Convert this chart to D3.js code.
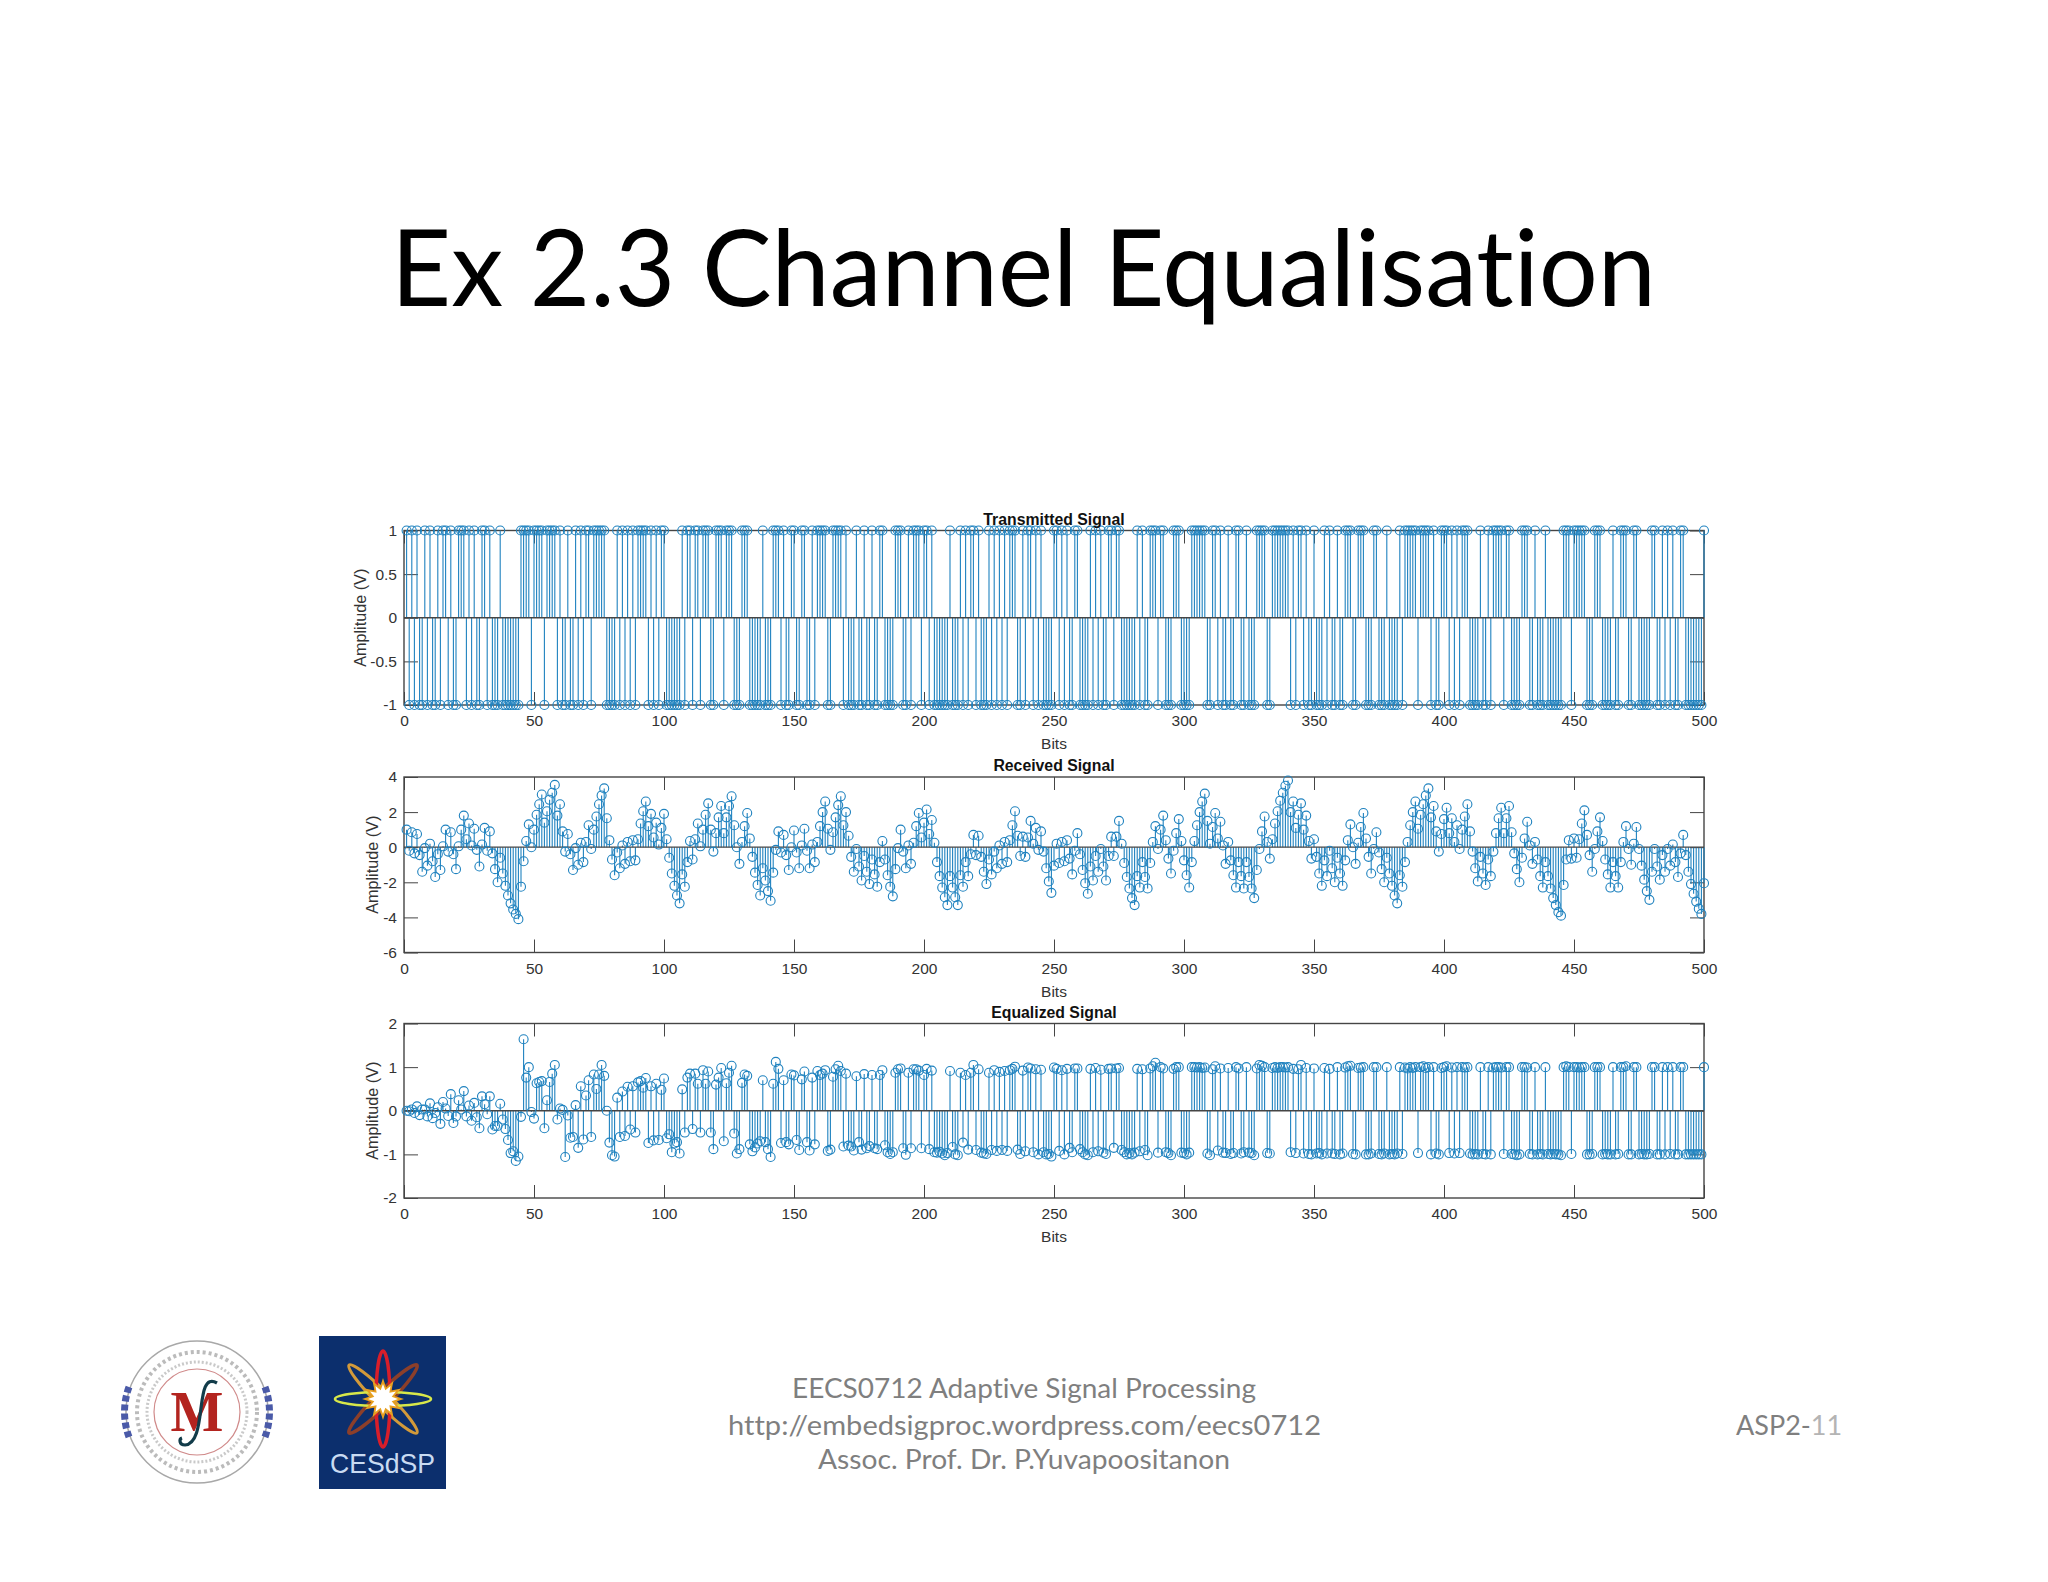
<!DOCTYPE html>
<html><head><meta charset="utf-8">
<script src="https://cdn.jsdelivr.net/npm/d3@7/dist/d3.min.js"></script>
<style>html,body{margin:0;padding:0;background:#fff}svg{display:block}text{font-variant-ligatures:none}</style>
</head><body><svg id="slide" width="2048" height="1582"></svg>
<script>
const slideTitle = "Ex 2.3 Channel Equalisation";
const footerLines = ["EECS0712 Adaptive Signal Processing","http://embedsigproc.wordpress.com/eecs0712","Assoc. Prof. Dr. P.Yuvapoositanon"];
const xTicks = [0,50,100,150,200,250,300,350,400,450,500];
const yTicksTx = [-1,-0.5,0,0.5,1];
const yTicksRx = [-6,-4,-2,0,2,4];
const yTicksEq = [-2,-1,0,1,2];
const transmitted = [
1,-1,1,-1,1,-1,-1,1,-1,1,
-1,-1,1,-1,1,1,-1,1,-1,-1,
1,1,1,-1,1,-1,1,-1,-1,1,
1,-1,1,-1,-1,-1,1,-1,-1,-1,
-1,-1,-1,-1,1,1,1,1,-1,1,
1,1,1,-1,1,1,1,1,-1,1,
-1,-1,1,-1,-1,1,-1,1,-1,1,
1,-1,1,1,1,1,1,-1,-1,-1,
-1,1,-1,1,-1,1,-1,1,-1,1,
1,1,1,-1,1,-1,1,-1,1,1,
-1,-1,-1,-1,-1,-1,1,-1,1,1,
-1,1,1,-1,1,1,1,-1,-1,1,
1,1,-1,1,1,1,-1,-1,-1,1,
1,1,-1,-1,-1,-1,-1,1,-1,-1,
-1,1,1,1,-1,1,-1,-1,1,1,
-1,-1,1,1,-1,-1,1,-1,1,1,
1,1,-1,-1,1,1,1,1,-1,1,
-1,-1,-1,1,-1,-1,1,-1,-1,1,
-1,-1,1,1,-1,-1,-1,-1,1,1,
1,-1,-1,1,-1,1,1,1,-1,1,
1,-1,1,-1,-1,-1,-1,-1,-1,1,
-1,-1,-1,1,-1,1,-1,1,1,-1,
1,-1,-1,-1,1,-1,1,-1,1,-1,
1,-1,1,1,1,-1,-1,1,-1,1,
1,-1,1,-1,1,-1,-1,-1,-1,1,
1,-1,1,-1,1,-1,-1,1,1,-1,
-1,-1,-1,1,-1,1,-1,1,-1,-1,
1,1,-1,1,1,-1,-1,-1,-1,-1,
-1,1,-1,1,-1,-1,1,1,1,-1,
1,1,-1,-1,-1,1,1,1,-1,-1,
-1,-1,1,1,1,1,1,1,-1,-1,
1,1,-1,1,-1,-1,1,-1,-1,1,
1,-1,-1,1,-1,-1,-1,1,1,1,
1,-1,-1,1,1,1,1,1,1,1,
-1,1,-1,1,1,-1,1,-1,-1,1,
-1,-1,-1,1,-1,1,-1,-1,1,-1,
-1,1,1,1,-1,-1,1,1,1,-1,
-1,-1,1,1,-1,-1,-1,1,-1,-1,
-1,-1,1,-1,1,1,1,1,1,-1,
1,1,1,1,-1,1,-1,-1,1,1,
1,-1,1,-1,1,-1,1,1,1,-1,
-1,-1,-1,1,-1,-1,1,-1,1,1,
1,1,-1,1,1,-1,-1,-1,-1,1,
1,1,-1,-1,1,-1,-1,-1,1,-1,
-1,-1,-1,-1,-1,1,1,1,-1,1,
1,1,1,1,-1,-1,-1,1,1,1,
-1,-1,-1,-1,1,-1,-1,1,1,1,
-1,-1,1,1,-1,-1,-1,-1,-1,1,
1,-1,-1,1,-1,1,-1,1,-1,-1,
1,1,-1,-1,-1,-1,-1,-1,-1,1];
const received = [
1.0,-0.2,0.85,-0.35,0.75,-0.45,-1.4,-0.05,-1.05,0.2,
-0.8,-1.7,-0.4,-1.3,0.05,1.0,-0.25,0.85,-0.4,-1.25,
0.05,1.0,1.8,0.45,1.35,0.1,1.05,-0.15,-1.1,0.15,
1.1,-0.2,0.9,-0.35,-1.25,-2.0,-0.6,-1.5,-2.2,-2.75,
-3.2,-3.55,-3.8,-4.1,-2.25,-0.8,0.35,1.3,0,1.0,
1.85,2.45,3.0,1.4,2.05,2.7,3.1,3.55,1.8,2.45,
0.9,-0.25,0.75,-0.4,-1.3,-0.05,-1.0,0.25,-0.85,0.3,
1.25,-0.1,1.0,1.75,2.45,2.95,3.35,1.65,0.4,-0.7,
-1.6,-0.3,-1.2,0.1,-0.95,0.3,-0.8,0.4,-0.75,0.45,
1.35,2.05,2.6,1.2,1.9,0.55,1.4,0.15,1.1,1.9,
0.45,-0.6,-1.5,-2.2,-2.75,-3.2,-1.55,-2.25,-0.85,0.35,
-0.7,0.45,1.35,0.05,1.0,1.85,2.5,1.0,-0.25,0.8,
1.7,2.35,0.8,1.7,2.35,2.9,1.25,0,-0.95,0.3,
1.2,1.95,0.5,-0.55,-1.45,-2.15,-2.75,-1.2,-1.9,-2.5,
-3.05,-1.45,-0.15,0.9,-0.3,0.7,-0.45,-1.3,0,0.95,
-0.3,-1.2,0.1,1.05,-0.2,-1.2,0.15,-0.85,0.3,1.2,
2.0,2.6,1.05,-0.15,0.85,1.7,2.4,2.9,1.25,2.0,
0.65,-0.55,-1.4,-0.1,-1.1,-1.9,-0.5,-1.4,-2.1,-0.7,
-1.55,-2.25,-0.85,0.35,-0.7,-1.6,-2.25,-2.8,-1.25,-0.05,
1.0,-0.25,-1.2,0.1,-0.95,0.25,1.2,1.95,0.55,1.4,
2.15,0.75,1.55,0.25,-0.85,-1.65,-2.3,-2.85,-3.3,-1.65,
-2.3,-2.85,-3.3,-1.6,-2.25,-0.85,-1.65,-0.4,0.7,-0.45,
0.65,-0.55,-1.4,-2.1,-0.7,-1.55,-0.25,-1.2,0.1,-0.95,
0.3,-0.85,0.4,1.25,2.05,0.65,-0.5,0.6,-0.55,0.55,
1.5,0.2,1.1,-0.15,0.9,-0.25,-1.2,-1.95,-2.6,-1.05,
0.2,-0.9,0.3,-0.8,0.4,-0.65,-1.55,-0.2,0.8,-0.4,
-1.3,-2.05,-2.65,-1.1,-1.9,-0.5,-1.4,-0.1,-1.1,-1.9,
-0.5,0.6,-0.5,0.6,1.5,0.2,-0.9,-1.7,-2.35,-2.9,
-3.3,-1.65,-2.3,-0.85,-1.7,-2.35,-0.9,0.3,1.2,-0.1,
1.0,1.8,0.4,-0.65,-1.5,-0.2,0.8,1.6,0.35,-0.75,
-1.6,-2.3,-0.85,0.35,1.25,2.0,2.6,3.05,1.5,0.2,
1.15,1.95,0.5,1.45,0.1,-0.95,0.3,-0.75,-1.6,-2.3,
-0.85,-1.65,-2.35,-0.85,-1.7,-2.35,-2.9,-1.3,-0.1,0.9,
1.75,0.3,-0.65,0.45,1.35,2.05,2.65,3.1,3.5,3.8,
2.0,2.6,1.1,1.85,2.5,1.0,1.8,0.35,-0.65,0.45,
-0.55,-1.5,-2.2,-0.75,-1.65,-0.2,-1.2,-2.0,-0.6,-1.5,
-2.2,-0.75,0.4,1.3,0,-0.95,0.25,1.15,1.95,0.5,
-0.55,-1.5,-0.1,0.85,-0.3,-1.25,-2.0,-0.6,-1.5,-2.2,
-2.75,-3.2,-1.6,-2.25,-0.85,0.3,1.25,2.0,2.6,1.05,
1.85,2.45,2.95,3.35,1.7,2.35,0.9,-0.25,0.75,1.6,
2.25,0.8,1.65,0.3,1.25,-0.1,1.0,1.75,2.45,0.9,
-0.25,-1.2,-1.95,-0.55,-1.5,-2.15,-0.7,-1.65,-0.25,0.8,
1.65,2.25,0.8,1.65,2.35,0.85,-0.35,-1.25,-2.0,-0.6,
0.5,1.45,0.1,-0.95,0.3,-0.7,-1.65,-2.3,-0.85,-1.65,
-2.35,-2.9,-3.3,-3.7,-3.9,-2.15,-0.7,0.4,-0.65,0.5,
-0.6,0.45,1.35,2.1,0.7,-0.45,-1.4,-0.1,0.9,1.7,
0.35,-0.7,-1.55,-2.3,-0.85,-1.65,-2.3,-0.85,0.3,1.2,
-0.1,-1.0,0.2,1.15,-0.1,-1.05,-1.85,-2.5,-3.0,-1.4,
-0.1,-1.1,-1.85,-0.45,-1.4,-0.1,-1.05,0.15,-0.85,-1.7,
-0.35,0.7,-0.45,-1.4,-2.1,-2.65,-3.1,-3.5,-3.8,-2.05];
const equalized = [
0,-0.01,0.03,-0.05,0.1,-0.1,0.03,0.03,-0.13,0.17,
-0.17,-0.05,0.08,-0.3,0.2,0.05,-0.12,0.38,-0.28,-0.13,
0.24,0.03,0.45,-0.13,0.12,-0.23,0.18,-0.15,-0.4,0.33,
0.15,-0.08,0.33,-0.43,-0.35,-0.35,0.16,-0.2,-0.42,-0.67,
-0.97,-0.93,-1.15,-1.05,-0.14,1.64,0.76,1.0,-0.03,-0.18,
0.63,0.66,0.68,-0.4,0.24,0.66,0.85,1.05,-0.2,0.05,
0.02,-1.06,-0.11,-0.62,-0.6,0.13,-0.85,0.56,-0.66,0.35,
0.7,-0.6,0.83,0.5,0.83,1.05,0.8,0,-0.73,-1.02,
-1.05,0.3,-0.6,0.44,-0.58,0.55,-0.43,0.56,-0.5,0.65,
0.68,0.53,0.75,-0.74,0.56,-0.68,0.62,-0.67,0.48,0.74,
-0.63,-0.54,-0.95,-0.75,-0.72,-0.98,0.49,-0.5,0.76,0.85,
-0.42,0.85,0.62,-0.5,0.93,0.62,0.9,-0.5,-0.88,0.6,
0.76,0.98,-0.7,0.63,0.87,1.03,-0.52,-0.98,-0.88,0.64,
0.83,0.8,-0.77,-0.93,-0.84,-0.75,-0.7,0.7,-0.72,-0.88,
-1.06,0.62,1.12,0.96,-0.74,0.7,-0.72,-0.77,0.83,0.81,
-0.67,-0.9,0.72,0.9,-0.72,-0.91,0.76,-0.77,0.91,0.82,
0.85,0.93,-0.92,-0.89,0.78,0.95,1.03,0.91,-0.82,0.85,
-0.8,-0.82,-0.91,0.79,-0.72,-0.89,0.84,-0.86,-0.81,0.82,
-0.86,-0.88,0.82,0.93,-0.79,-0.95,-0.99,-0.95,0.87,0.95,
0.97,-0.86,-1.01,0.87,-0.86,0.95,0.95,0.92,-0.86,0.82,
0.96,-0.88,0.92,-0.95,-0.96,-0.94,-0.98,-1.02,-0.97,0.91,
-0.83,-1.0,-1.02,0.87,-0.73,0.82,-0.89,0.87,1.05,-0.9,
0.95,-0.96,-0.98,-0.99,0.87,-0.9,0.93,-0.92,0.89,-0.9,
0.91,-0.92,0.93,0.96,1.01,-0.89,-0.99,0.92,-0.93,0.99,
0.97,-0.95,0.95,-1.0,0.94,-0.95,-1.0,-0.99,-1.05,0.99,
0.96,-0.92,0.93,-1.0,0.96,-0.85,-0.95,0.97,0.97,-0.88,
-0.95,-1.0,-1.02,0.96,-0.95,0.98,-0.93,0.94,-0.96,-0.99,
0.96,0.97,-0.85,0.97,0.98,-0.9,-0.95,-1.0,-0.97,-1.0,
-0.96,0.96,-0.93,0.95,-0.9,-1.02,0.97,1.02,1.1,-0.96,
1.0,0.97,-0.95,-0.97,-1.02,0.96,1.0,1.0,-0.96,-0.97,
-1.0,-0.96,1.0,1.0,0.99,1.0,0.98,0.99,-0.98,-1.02,
0.95,1.02,-0.91,0.97,-0.96,-0.97,0.98,-0.99,-0.97,1.0,
0.97,-0.98,-0.95,1.0,-0.96,-0.97,-1.02,0.97,1.05,1.03,
1.0,-0.97,-0.98,0.98,1.0,0.98,1.0,1.0,0.99,1.0,
-0.95,0.96,-0.97,0.95,1.05,-0.98,0.98,-0.99,-1.0,0.97,
-0.98,-0.97,-1.0,0.98,-0.98,0.96,-0.98,-0.99,1.0,-1.0,
-0.98,0.99,1.02,1.03,-0.99,-1.0,0.98,0.99,1.0,-1.0,
-1.0,-0.98,1.0,1.0,-0.99,-1.0,-0.98,1.0,-1.0,-0.99,
-1.0,-0.98,1.0,-0.99,0.99,0.97,1.0,0.98,1.0,-0.97,
1.0,1.02,0.98,1.0,-1.0,1.0,-0.98,-1.0,0.98,1.0,
1.02,-0.97,0.99,-0.98,1.0,-0.97,1.0,0.99,1.0,-0.98,
-1.0,-0.99,-1.0,1.0,-0.99,-1.0,1.0,-1.0,0.99,1.0,
1.0,0.99,-0.99,1.0,1.0,-0.99,-1.0,-1.02,-1.0,1.0,
1.0,0.99,-0.99,-1.0,1.0,-1.0,-0.99,-1.0,1.0,-0.99,
-1.0,-0.99,-1.0,-1.0,-1.02,1.0,1.02,1.0,-0.99,1.0,
1.0,0.99,1.0,1.0,-1.0,-1.0,-0.99,1.0,1.0,1.0,
-1.0,-0.99,-1.0,-1.0,1.0,-1.0,-0.99,1.0,1.0,1.02,
-1.0,-1.0,1.0,1.0,-1.0,-0.99,-1.0,-1.0,-0.99,1.0,
1.0,-1.0,-1.0,1.0,-1.0,1.0,-0.99,1.0,-1.0,-1.0,
1.0,1.0,-1.0,-1.0,-1.0,-1.0,-1.0,-1.0,-1.0,1.0];

const svg = d3.select("#slide");
const sans = "'Liberation Sans',Arial,sans-serif";
const stemColor = "#1f82bf";
const axisColor = "#454545";
const textColor = "#333333";
const left = 404, right = 1704;

svg.append("rect").attr("width",2048).attr("height",1582).attr("fill","#fff");
svg.append("text").text(slideTitle).attr("x",391).attr("y",306)
  .attr("textLength",1265).attr("lengthAdjust","spacingAndGlyphs")
  .attr("font-family","Lato,'Open Sans',sans-serif").attr("font-size",106).attr("fill","#000");

function plot(cfg){
  const x = d3.scaleLinear().domain([0,500]).range([left,right]);
  const y = d3.scaleLinear().domain(cfg.domain).range([cfg.bottom,cfg.top]);
  const g = svg.append("g");
  const plain = d => String(d);
  const ax = (gen,tx) => {
    const a = g.append("g").attr("transform",tx).call(gen);
    a.select(".domain").remove();
    a.selectAll("line").attr("stroke",axisColor).attr("stroke-width",1);
    a.selectAll("text").attr("font-family",sans).attr("font-size",15.5).attr("fill",textColor);
    return a;
  };
  ax(d3.axisBottom(x).tickValues(xTicks).tickFormat(plain).tickSizeInner(-13).tickSizeOuter(0).tickPadding(10),`translate(0,${cfg.bottom})`);
  ax(d3.axisTop(x).tickValues(xTicks).tickFormat("").tickSizeInner(-13).tickSizeOuter(0),`translate(0,${cfg.top})`);
  ax(d3.axisLeft(y).tickValues(cfg.yTicks).tickFormat(plain).tickSizeInner(-14).tickSizeOuter(0).tickPadding(7),`translate(${left},0)`);
  ax(d3.axisRight(y).tickValues(cfg.yTicks).tickFormat("").tickSizeInner(-14).tickSizeOuter(0),`translate(${right},0)`);
  g.append("rect").attr("x",left).attr("y",cfg.top).attr("width",right-left).attr("height",cfg.bottom-cfg.top)
    .attr("fill","none").attr("stroke",axisColor).attr("stroke-width",1.4);
  const pts = cfg.values.map((v,i)=>({bit:i+1,v}));
  g.append("g").selectAll("line").data(pts).join("line")
    .attr("x1",d=>x(d.bit)).attr("x2",d=>x(d.bit)).attr("y1",y(0)).attr("y2",d=>y(d.v))
    .attr("stroke",stemColor).attr("stroke-width",1.1);
  g.append("line").attr("x1",left).attr("x2",right).attr("y1",y(0)).attr("y2",y(0))
    .attr("stroke",axisColor).attr("stroke-width",1.3);
  g.append("g").selectAll("circle").data(pts).join("circle")
    .attr("cx",d=>x(d.bit)).attr("cy",d=>y(d.v)).attr("r",4.5)
    .attr("fill","none").attr("stroke",stemColor).attr("stroke-width",1.1);
  g.append("text").text(cfg.title).attr("x",1054).attr("y",cfg.titleY).attr("text-anchor","middle")
    .attr("font-family",sans).attr("font-weight","bold").attr("font-size",15.8).attr("fill","#111");
  g.append("text").text("Bits").attr("x",1054).attr("y",cfg.bottom+44).attr("text-anchor","middle")
    .attr("font-family",sans).attr("font-size",15.5).attr("fill",textColor);
  g.append("text").text("Amplitude (V)")
    .attr("transform",`translate(${cfg.ylabelX},${(cfg.top+cfg.bottom)/2}) rotate(-90)`).attr("text-anchor","middle")
    .attr("font-family",sans).attr("font-size",16.2).attr("fill",textColor);
}
plot({title:"Transmitted Signal",values:transmitted,domain:[-1,1],yTicks:yTicksTx,top:530.5,bottom:705,titleY:525,ylabelX:366});
plot({title:"Received Signal",values:received,domain:[-6,4],yTicks:yTicksRx,top:777,bottom:952.5,titleY:771,ylabelX:378});
plot({title:"Equalized Signal",values:equalized,domain:[-2,2],yTicks:yTicksEq,top:1023.5,bottom:1198,titleY:1018,ylabelX:378});

const foot = [[792,1398,464],[728,1435,593],[818,1469,412]];
footerLines.forEach((t,i)=>{
  svg.append("text").text(t).attr("x",foot[i][0]).attr("y",foot[i][1])
    .attr("textLength",foot[i][2]).attr("lengthAdjust","spacingAndGlyphs")
    .attr("font-family","Lato,sans-serif").attr("font-size",27).attr("fill","#7f7f7f");
});
const pg = svg.append("text").attr("x",1736).attr("y",1435).attr("font-family","Lato,sans-serif").attr("font-size",27).attr("fill","#7f7f7f");
pg.append("tspan").text("ASP2-");
pg.append("tspan").text("11").attr("fill","#b4b4b4");

// seal logo
const seal = svg.append("g").attr("transform","translate(197,1412)").attr("fill","none");
seal.append("circle").attr("r",71).attr("stroke","#a8a8a8").attr("stroke-width",1.5);
seal.append("path").attr("d","M-68,-25 A72,72 0 0 0 -68,25").attr("stroke","#4a5aa8").attr("stroke-width",7).attr("stroke-dasharray","6 3");
seal.append("path").attr("d","M68,-25 A72,72 0 0 1 68,25").attr("stroke","#4a5aa8").attr("stroke-width",7).attr("stroke-dasharray","6 3");
seal.append("circle").attr("r",60).attr("stroke","#777").attr("stroke-width",4).attr("stroke-dasharray","3 3").attr("opacity",.5);
seal.append("circle").attr("r",50).attr("stroke","#888").attr("stroke-width",3).attr("stroke-dasharray","2 2").attr("opacity",.45);
seal.append("circle").attr("r",43).attr("stroke","#d08a8a").attr("stroke-width",1.2);
seal.append("text").text("M").attr("text-anchor","middle").attr("y",19).attr("font-family","'Liberation Serif',serif")
  .attr("font-weight","bold").attr("font-size",56).attr("fill","#b3241f");
seal.append("path").attr("d","M20,-29 C8,-36 6,-20 4,-4 C2,12 0,32 -12,33 C-18,33 -18,27 -15,26").attr("stroke","#123c4a").attr("stroke-width",3.2);

// CESdSP logo
const ces = svg.append("g");
ces.append("rect").attr("x",319).attr("y",1336).attr("width",127).attr("height",153).attr("fill","#0c2f6d");
const petal = (rot,col,w)=>ces.append("ellipse").attr("rx",48).attr("ry",7)
  .attr("transform",`translate(383,1399) rotate(${rot})`).attr("fill","none").attr("stroke",col).attr("stroke-width",w);
petal(45,"#d39a3a",3); petal(-45,"#8c3f2a",3.5); petal(0,"#d8e84a",2.5); petal(90,"#d81e2a",3.5);
const burst = (r1,r2,col)=>ces.append("polygon").attr("fill",col).attr("points",
  d3.range(24).map(i=>{const a=i*Math.PI/12,r=i%2?r2:r1;return [383+r*Math.cos(a),1399+r*Math.sin(a)].join(",");}).join(" "));
burst(21,12,"#e8a01f"); burst(15,9,"#ffffff");
ces.append("text").text("CESdSP").attr("x",330).attr("y",1473).attr("textLength",105).attr("lengthAdjust","spacingAndGlyphs")
  .attr("font-family",sans).attr("font-size",28).attr("fill","#c9dbf2");
</script></body></html>
